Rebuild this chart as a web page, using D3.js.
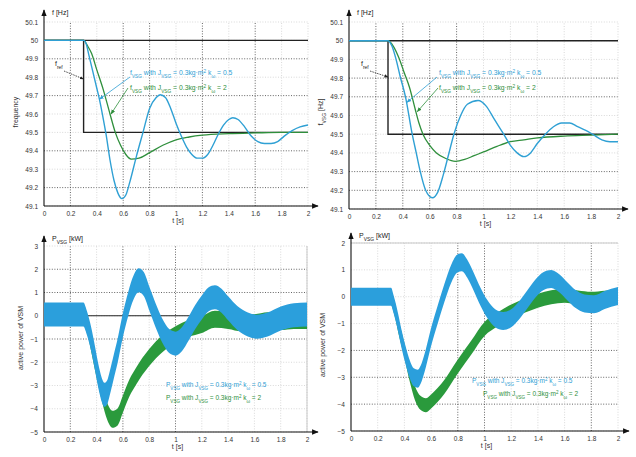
<!DOCTYPE html>
<html><head><meta charset="utf-8">
<script src="https://cdn.jsdelivr.net/npm/d3@7"></script>
<style>
html,body{margin:0;padding:0;background:#fff;}
svg{display:block;font-family:"Liberation Sans",Arial,sans-serif;}
</style></head>
<body><svg id="c" width="636" height="457"></svg>
<script>
// ---------------- DATA ----------------
const timeTicks = [0,0.2,0.4,0.6,0.8,1,1.2,1.4,1.6,1.8,2];
const freqTicks = [50.1,50,49.9,49.8,49.7,49.6,49.5,49.4,49.3,49.2,49.1];
const powerTicksA = [3,2,1,0,-1,-2,-3,-4,-5];
const powerTicksB = [2,1,0,-1,-2,-3,-4,-5];

const freqRef = [[0,50],[0.3,50],[0.3,49.5],[2,49.5]];
const freqNominal = [[0,50],[2,50]];
const powerRef = [[0.3,0],[2,0]];

// top-left: frequency, k=0.5 (blue) and k=2 (green)
const f1Blue = [[0,50],[0.3,50],[0.32,49.98],[0.34,49.92],[0.37,49.83],[0.4,49.74],[0.42,49.68],[0.45,49.57],[0.47,49.49],[0.5,49.35],[0.53,49.24],[0.56,49.17],[0.59,49.14],[0.62,49.16],[0.65,49.23],[0.7,49.37],[0.75,49.5],[0.8,49.63],[0.85,49.69],[0.88,49.705],[0.92,49.69],[0.96,49.63],[1.0,49.55],[1.04,49.48],[1.08,49.42],[1.12,49.38],[1.16,49.36],[1.2,49.36],[1.24,49.38],[1.28,49.43],[1.32,49.49],[1.36,49.54],[1.4,49.57],[1.43,49.58],[1.47,49.57],[1.52,49.53],[1.57,49.48],[1.62,49.45],[1.67,49.44],[1.72,49.44],[1.77,49.45],[1.82,49.48],[1.88,49.51],[1.94,49.53],[2.0,49.54]];
const f1Green = [[0,50],[0.3,50],[0.33,49.97],[0.36,49.93],[0.4,49.84],[0.45,49.73],[0.5,49.6],[0.54,49.5],[0.58,49.43],[0.62,49.38],[0.66,49.355],[0.72,49.36],[0.8,49.39],[0.9,49.43],[1.0,49.46],[1.1,49.475],[1.2,49.485],[1.4,49.493],[1.6,49.497],[1.8,49.5],[2.0,49.5]];

// top-right: measured frequency
const f2Blue = [[0,50],[0.29,50],[0.32,49.97],[0.35,49.9],[0.38,49.81],[0.42,49.7],[0.47,49.5],[0.5,49.4],[0.53,49.3],[0.57,49.2],[0.62,49.16],[0.66,49.19],[0.7,49.28],[0.74,49.39],[0.78,49.5],[0.83,49.6],[0.88,49.66],[0.96,49.68],[1.02,49.65],[1.08,49.58],[1.15,49.5],[1.2,49.44],[1.25,49.4],[1.3,49.38],[1.35,49.4],[1.4,49.45],[1.46,49.5],[1.52,49.54],[1.58,49.56],[1.64,49.56],[1.7,49.54],[1.76,49.52],[1.81,49.5],[1.88,49.47],[1.94,49.46],[2.0,49.46]];
const f2Green = [[0,50],[0.29,50],[0.33,49.97],[0.37,49.91],[0.41,49.83],[0.45,49.75],[0.49,49.64],[0.52,49.56],[0.55,49.5],[0.6,49.44],[0.65,49.4],[0.72,49.37],[0.79,49.355],[0.86,49.365],[0.93,49.385],[1.0,49.405],[1.1,49.435],[1.2,49.46],[1.3,49.47],[1.4,49.48],[1.6,49.49],[1.8,49.495],[2.0,49.5]];

// bottom-left: active power (simulation)
const p1Blue = [[0,0.05],[0.1,0.05],[0.2,0.05],[0.3,0.05],[0.32,-0.2],[0.35,-0.8],[0.38,-1.6],[0.41,-2.5],[0.44,-3.2],[0.46,-3.4],[0.48,-3.3],[0.5,-2.9],[0.53,-2.2],[0.56,-1.5],[0.6,-0.4],[0.64,0.5],[0.68,1.2],[0.72,1.53],[0.76,1.35],[0.8,0.75],[0.85,0.0],[0.9,-0.65],[0.95,-1.08],[1.0,-1.2],[1.05,-1.0],[1.1,-0.55],[1.15,-0.05],[1.2,0.35],[1.25,0.7],[1.3,0.8],[1.35,0.65],[1.4,0.32],[1.47,-0.1],[1.55,-0.38],[1.62,-0.47],[1.7,-0.38],[1.8,-0.12],[1.9,0.02],[2.0,0.05]];
const p1Green = [[0.3,0.05],[0.33,-0.4],[0.36,-1.2],[0.4,-2.3],[0.44,-3.3],[0.48,-4.1],[0.52,-4.45],[0.56,-4.35],[0.6,-3.8],[0.65,-3.1],[0.7,-2.6],[0.8,-1.8],[0.9,-1.2],[1.0,-0.82],[1.1,-0.55],[1.2,-0.38],[1.3,-0.15],[1.4,-0.2],[1.5,-0.3],[1.6,-0.3],[1.7,-0.22],[1.8,-0.25],[1.9,-0.2],[2.0,-0.2]];

// bottom-right: active power (measured)
const p2Blue = [[0,0],[0.1,0],[0.2,0],[0.3,0],[0.32,-0.3],[0.35,-0.9],[0.38,-1.6],[0.41,-2.2],[0.44,-2.7],[0.47,-3.0],[0.5,-3.05],[0.53,-2.8],[0.56,-2.3],[0.6,-1.5],[0.65,-0.65],[0.7,0.15],[0.75,0.85],[0.8,1.25],[0.83,1.28],[0.87,1.05],[0.92,0.55],[0.97,0.0],[1.02,-0.45],[1.08,-0.8],[1.14,-0.9],[1.2,-0.8],[1.26,-0.5],[1.32,-0.1],[1.38,0.3],[1.44,0.58],[1.5,0.66],[1.56,0.5],[1.62,0.2],[1.68,-0.08],[1.75,-0.25],[1.82,-0.28],[1.9,-0.12],[2.0,0.03]];
const p2Green = [[0.3,0],[0.33,-0.5],[0.36,-1.2],[0.4,-2.0],[0.44,-2.9],[0.48,-3.6],[0.52,-3.95],[0.56,-4.04],[0.6,-3.9],[0.65,-3.65],[0.7,-3.35],[0.8,-2.6],[0.9,-1.9],[1.0,-1.2],[1.1,-0.84],[1.2,-0.55],[1.3,-0.34],[1.4,-0.15],[1.5,-0.02],[1.6,0.04],[1.7,-0.03],[1.8,-0.08],[1.9,-0.04],[2.0,0.0]];

// ---------------- STYLE / LAYOUT ----------------
const BLUE = "#2fa0d4", GREEN = "#2f8f3c", BANDBLUE = "#2b9fdc", BANDGREEN = "#2a9a3c";
const svg = d3.select("#c");
const defs = svg.append("defs");
function marker(id, color, w, h){
  defs.append("marker").attr("id",id).attr("viewBox","0 0 10 10").attr("refX",9).attr("refY",5)
    .attr("markerWidth",w).attr("markerHeight",h).attr("orient","auto")
    .append("path").attr("d","M0,1 L10,5 L0,9 Z").attr("fill",color);
}
marker("axArrow","#111",7,6);
marker("bArrow",BLUE,6,6);
marker("gArrow",GREEN,6,6);
marker("kArrow","#222",5,5);

function richText(g, x, y, parts, color, size){
  const t = g.append("text").attr("x",x).attr("y",y).attr("fill",color).attr("font-size",size);
  parts.forEach(p=>{
    const s = t.append("tspan").text(p[0]);
    if(p[1]==="sub") s.attr("baseline-shift","sub").attr("font-size",size*0.7);
    if(p[1]==="sup") s.attr("baseline-shift","super").attr("font-size",size*0.7);
  });
  return t;
}
const legendParts = (sym, k) => [[sym],["VSG","sub"],[" with J"],["VSG","sub"],[" = 0.3kg·m"],["2","sup"],[" k"],["ω","sub"],[" = "+k]];

function panel(cfg){
  const g = svg.append("g");
  const x = d3.scaleLinear().domain([0,2]).range(cfg.xr);
  const y = d3.scaleLinear().domain(cfg.yd).range(cfg.yr);
  cfg.yTicks.forEach(v=>{
    const dark = cfg.hDark.includes(v);
    g.append("line").attr("x1",x(0)).attr("x2",x(2)).attr("y1",y(v)).attr("y2",y(v))
      .attr("stroke",dark?"#555":"#c8c8c8").attr("stroke-width",dark?0.9:0.7).attr("stroke-dasharray","1,1.6");
  });
  timeTicks.slice(1).forEach(v=>{
    const dark = cfg.vDark.includes(v);
    g.append("line").attr("x1",x(v)).attr("x2",x(v)).attr("y1",y(cfg.yd[0])).attr("y2",y(cfg.yd[1]))
      .attr("stroke",dark?"#555":"#c8c8c8").attr("stroke-width",dark?0.9:0.7).attr("stroke-dasharray","1,1.6");
  });
  if(cfg.frameTop) g.append("line").attr("x1",x(0)).attr("x2",x(2)).attr("y1",y(cfg.yd[1])).attr("y2",y(cfg.yd[1])).attr("stroke","#bbb").attr("stroke-width",0.8);
  if(cfg.frameRight) g.append("line").attr("x1",x(2)).attr("x2",x(2)).attr("y1",y(cfg.yd[0])).attr("y2",y(cfg.yd[1])).attr("stroke","#bbb").attr("stroke-width",0.8);

  const xa = d3.axisBottom(x).tickValues(timeTicks).tickSize(0).tickPadding(5).tickFormat(d3.format("~g"));
  const gx = g.append("g").attr("transform",`translate(0,${y(cfg.yd[0])})`).call(xa);
  gx.select(".domain").remove();
  gx.selectAll("text").attr("font-size",6.5).attr("fill","#333").attr("font-family","Liberation Sans, Arial, sans-serif");
  const ya = d3.axisLeft(y).tickValues(cfg.yTicks).tickSize(0).tickPadding(6).tickFormat(d3.format("~g"));
  const gy = g.append("g").attr("transform",`translate(${x(0)},0)`).call(ya);
  gy.select(".domain").remove();
  gy.selectAll("text").attr("font-size",6.5).attr("fill","#333").attr("font-family","Liberation Sans, Arial, sans-serif");
  g.append("line").attr("x1",x(0)).attr("x2",cfg.xEnd).attr("y1",y(cfg.yd[0])).attr("y2",y(cfg.yd[0]))
    .attr("stroke","#111").attr("stroke-width",1.1).attr("marker-end","url(#axArrow)");
  g.append("line").attr("x1",x(0)).attr("x2",x(0)).attr("y1",y(cfg.yd[0])).attr("y2",cfg.yEnd)
    .attr("stroke","#111").attr("stroke-width",1.1).attr("marker-end","url(#axArrow)");
  richText(g, x(0)+8, cfg.yEnd+5, cfg.topLabel, "#222", 7);
  g.append("text").attr("x",(x(0)+x(2))/2+2).attr("y",y(cfg.yd[0])+17).attr("text-anchor","middle")
    .attr("font-size",7).attr("fill","#333").text("t [s]");
  const yl = g.append("g").attr("transform",`translate(${cfg.ylx},${cfg.yly}) rotate(-90)`);
  const ylt = yl.append("text").attr("text-anchor","middle").attr("font-size",7).attr("fill","#333");
  cfg.yLabel.forEach(p=>{const s=ylt.append("tspan").text(p[0]); if(p[1]==="sub") s.attr("baseline-shift","sub").attr("font-size",5);});
  return {g,x,y};
}

// ---------- Panel 1 ----------
(function(){
  const {g,x,y} = panel({xr:[44,308], yr:[206,22], yd:[49.1,50.1], yTicks:freqTicks,
    hDark:[49.9,49.7,49.4,49.2], vDark:[0.2,0.6,0.8,1.2,1.6], xEnd:318, yEnd:10,
    topLabel:[["f [Hz]"]], yLabel:[["frequency"]], ylx:18, yly:112});
  const line = d3.line().x(d=>x(d[0])).y(d=>y(d[1]));
  g.append("path").attr("d",line(freqNominal)).attr("fill","none").attr("stroke","#222").attr("stroke-width",1.4);
  g.append("path").attr("d",line(freqRef)).attr("fill","none").attr("stroke","#222").attr("stroke-width",1.4);
  const cl = d3.line().x(d=>x(d[0])).y(d=>y(d[1])).curve(d3.curveMonotoneX);
  g.append("path").attr("d",cl(f1Green)).attr("fill","none").attr("stroke",GREEN).attr("stroke-width",1.3);
  g.append("path").attr("d",cl(f1Blue)).attr("fill","none").attr("stroke",BLUE).attr("stroke-width",1.4);
  richText(g,130,75,legendParts("f","0.5"),BLUE,6.8);
  richText(g,130,90,legendParts("f","2"),GREEN,6.8);
  g.append("line").attr("x1",130).attr("y1",77).attr("x2",x(0.42)).attr("y2",y(49.68)).attr("stroke",BLUE).attr("stroke-width",0.8).attr("marker-end","url(#bArrow)");
  g.append("line").attr("x1",128).attr("y1",88).attr("x2",x(0.5)+1).attr("y2",y(49.6)).attr("stroke",GREEN).attr("stroke-width",0.8).attr("marker-end","url(#gArrow)");
  richText(g,55,66,[["f"],["ref","sub"]],"#222",7);
  g.append("line").attr("x1",64).attr("y1",71).attr("x2",x(0.3)).attr("y2",79).attr("stroke","#222").attr("stroke-width",0.8).attr("stroke-dasharray","1.5,1").attr("marker-end","url(#kArrow)");
})();

// ---------- Panel 2 ----------
(function(){
  const {g,x,y} = panel({xr:[349,618], yr:[209,22], yd:[49.1,50.1], yTicks:freqTicks,
    hDark:[49.8,49.7,49.3,49.2], vDark:[0.2,0.4,0.6,0.8], xEnd:628, yEnd:10,
    topLabel:[["f [Hz]"]], yLabel:[["f"],["VSG","sub"],[" [Hz]"]], ylx:323, yly:112});
  const line = d3.line().x(d=>x(d[0])).y(d=>y(d[1]));
  g.append("path").attr("d",line(freqNominal)).attr("fill","none").attr("stroke","#222").attr("stroke-width",1.4);
  g.append("path").attr("d",line([[0.29,50],[0.29,49.5],[2,49.5]])).attr("fill","none").attr("stroke","#222").attr("stroke-width",1.4);
  const cl = d3.line().x(d=>x(d[0])).y(d=>y(d[1])).curve(d3.curveMonotoneX);
  g.append("path").attr("d",cl(f2Green)).attr("fill","none").attr("stroke",GREEN).attr("stroke-width",1.3);
  g.append("path").attr("d",cl(f2Blue)).attr("fill","none").attr("stroke",BLUE).attr("stroke-width",1.4);
  richText(g,439,75,legendParts("f","0.5"),BLUE,6.8);
  richText(g,439,90,legendParts("f","2"),GREEN,6.8);
  g.append("line").attr("x1",437).attr("y1",77).attr("x2",x(0.43)).attr("y2",y(49.67)).attr("stroke",BLUE).attr("stroke-width",0.8).attr("marker-end","url(#bArrow)");
  g.append("line").attr("x1",438).attr("y1",88).attr("x2",x(0.5)+1).attr("y2",y(49.62)).attr("stroke",GREEN).attr("stroke-width",0.8).attr("marker-end","url(#gArrow)");
  richText(g,361,66,[["f"],["ref","sub"]],"#222",7);
  g.append("line").attr("x1",370).attr("y1",71).attr("x2",x(0.29)).attr("y2",77).attr("stroke","#222").attr("stroke-width",0.8).attr("stroke-dasharray","1.5,1").attr("marker-end","url(#kArrow)");
})();

// ---------- Panel 3 ----------
(function(){
  const {g,x,y} = panel({xr:[44,307], yr:[432,246], yd:[-5,3], yTicks:powerTicksA,
    hDark:[2,1,-1], vDark:[0.2,0.6,1], xEnd:318, yEnd:236, frameRight:true,
    topLabel:[["P"],["VSG","sub"],[" [kW]"]], yLabel:[["active power of VSM"]], ylx:23, yly:338});
  const line = d3.line().x(d=>x(d[0])).y(d=>y(d[1]));
  g.append("path").attr("d",line(powerRef)).attr("fill","none").attr("stroke","#222").attr("stroke-width",1.2);
  const band = (h)=>d3.area().x(d=>x(d[0])).y0(d=>y(d[1])+h).y1(d=>y(d[1])-h).curve(d3.curveMonotoneX);
  g.append("path").attr("d",band(8.5)(p1Green)).attr("fill",BANDGREEN);
  g.append("path").attr("d",band(12)(p1Blue)).attr("fill",BANDBLUE);
  richText(g,166,387,legendParts("P","0.5"),BLUE,6.5);
  richText(g,166,400,legendParts("P","2"),GREEN,6.5);
})();

// ---------- Panel 4 ----------
(function(){
  const {g,x,y} = panel({xr:[351,618], yr:[431,243], yd:[-5,2], yTicks:powerTicksB,
    hDark:[-2,-3,-4], vDark:[0.8,1,1.8], xEnd:629, yEnd:233, frameTop:true,
    topLabel:[["P"],["VSG","sub"],[" [kW]"]], yLabel:[["active power of VSM"]], ylx:325, yly:345});
  const band = (h)=>d3.area().x(d=>x(d[0])).y0(d=>y(d[1])+h).y1(d=>y(d[1])-h).curve(d3.curveMonotoneX);
  g.append("path").attr("d",band(7)(p2Green)).attr("fill",BANDGREEN);
  g.append("path").attr("d",band(9)(p2Blue)).attr("fill",BANDBLUE);
  richText(g,472,383,legendParts("P","0.5"),BLUE,6.5);
  richText(g,483,396,legendParts("P","2"),GREEN,6.5);
})();
</script></body></html>
